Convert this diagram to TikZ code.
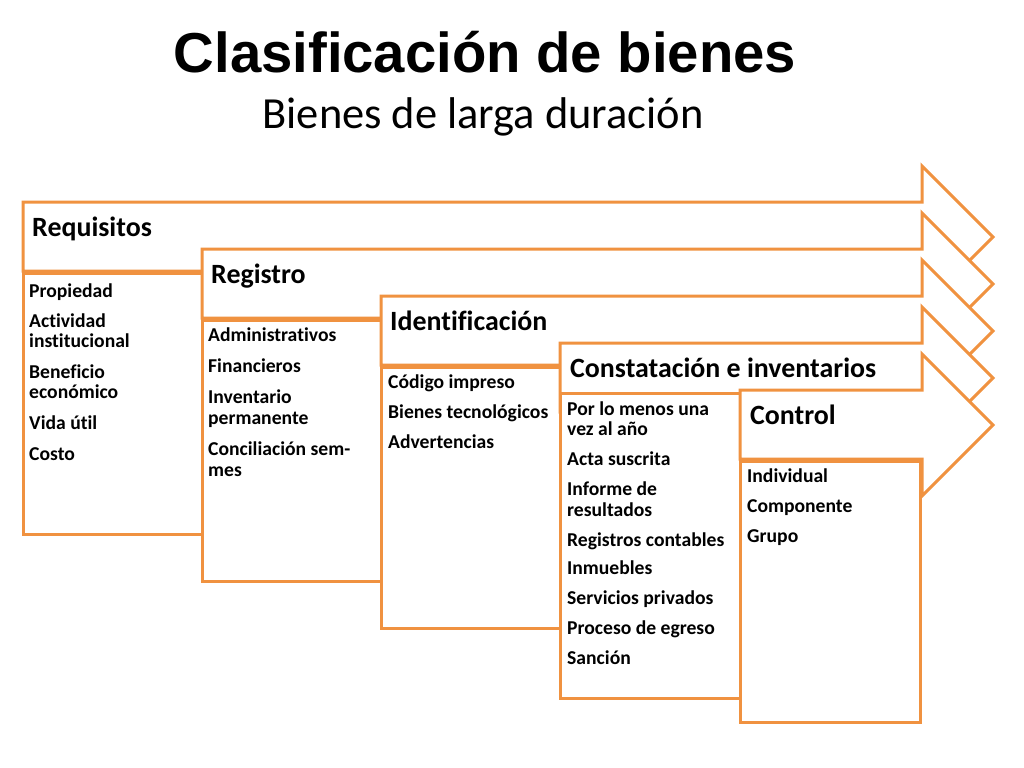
\documentclass[tikz,border=0pt]{standalone}
\usepackage{fontspec}
\setmainfont[Ligatures=NoCommon]{Carlito}
\newfontfamily\titlefont{Liberation Sans}
\definecolor{org}{RGB}{240,146,64}
\newcommand\bigarrow[2]{%
  \draw[arrowshape] (#1,#2) -- (922,#2) -- (922,{#2-36}) -- (993,{#2+35})
    -- (922,{#2+106}) -- (922,{#2+69}) -- (#1,{#2+69}) -- cycle;}
\begin{document}
\begin{tikzpicture}[x=1bp,y=-1bp,
  arrowshape/.style={draw=org,line width=3bp,fill=white,line join=miter},
  boxshape/.style={draw=org,line width=3bp,fill=white},
  headtext/.style={font=\bfseries\fontsize{28}{30}\selectfont,anchor=base west,inner sep=0pt},
  item/.style={font=\bfseries\fontsize{19.7}{22}\selectfont,anchor=base west,inner sep=0pt},
  titletext/.style={font=\titlefont\bfseries\fontsize{56.5}{60}\selectfont,anchor=base,inner sep=0pt},
  subtext/.style={font=\fontsize{44.6}{50}\selectfont,anchor=base,inner sep=0pt}]
\useasboundingbox (0,0) rectangle (1024,768);
\fill[white] (0,0) rectangle (1024,768);

\node[titletext] (title) at (485,73) {Clasificación de bienes};
\node[subtext] (sub) at (483,128) {Bienes de larga duración};

% 1 Requisitos
\bigarrow{23}{202}
\draw[boxshape] (23,273) rectangle (202,534);
\node[headtext] (h1) at (32,236.5) {Requisitos};
\node[item] (a1) at (29,297) {Propiedad};
\node[item] (a2) at (29,327) {Actividad};
\node[item] (a3) at (29,347.5) {institucional};
\node[item] (a4) at (29,378) {Beneficio};
\node[item] (a5) at (29,398.5) {económico};
\node[item] (a6) at (29,429) {Vida útil};
\node[item] (a7) at (29,460) {Costo};

% 2 Registro
\bigarrow{202}{249}
\draw[boxshape] (202,320) rectangle (381,581);
\node[headtext] (h2) at (211,283.5) {Registro};
\node[item] (b1) at (208,341.5) {Administrativos};
\node[item] (b2) at (208,372.5) {Financieros};
\node[item] (b3) at (208,403) {Inventario};
\node[item] (b4) at (208,424) {permanente};
\node[item] (b5) at (208,455.5) {Conciliación sem-};
\node[item] (b6) at (208,476.5) {mes};

% 3 Identificacion
\bigarrow{381}{296}
\draw[boxshape] (381,367) rectangle (560,628);
\node[headtext] (h3) at (390,330.5) {Identificación};
\node[item] (c1) at (388,388.5) {Código impreso};
\node[item] (c2) at (388,418.5) {Bienes tecnológicos};
\node[item] (c3) at (388,448.5) {Advertencias};

% 4 Constatacion
\bigarrow{560}{343}
\draw[boxshape] (560,393) rectangle (740,698);
\node[headtext] (h4) at (570,377) {Constatación e inventarios};
\node[item] (d1) at (567,415) {Por lo menos una};
\node[item] (d2) at (567,435.5) {vez al año};
\node[item] (d3) at (567,465) {Acta suscrita};
\node[item] (d4) at (567,495) {Informe de};
\node[item] (d5) at (567,516) {resultados};
\node[item] (d6) at (567,546) {Registros contables};
\node[item] (d7) at (567,574) {Inmuebles};
\node[item] (d8) at (567,604) {Servicios privados};
\node[item] (d9) at (567,634) {Proceso de egreso};
\node[item] (d10) at (567,664) {Sanción};

% 5 Control
\bigarrow{740}{390}
\draw[boxshape] (740,461) rectangle (920,722);
\node[headtext] (h5) at (750,424) {Control};
\node[item] (e1) at (747,482.5) {Individual};
\node[item] (e2) at (747,512.5) {Componente};
\node[item] (e3) at (747,542.5) {Grupo};
\end{tikzpicture}
\end{document}
